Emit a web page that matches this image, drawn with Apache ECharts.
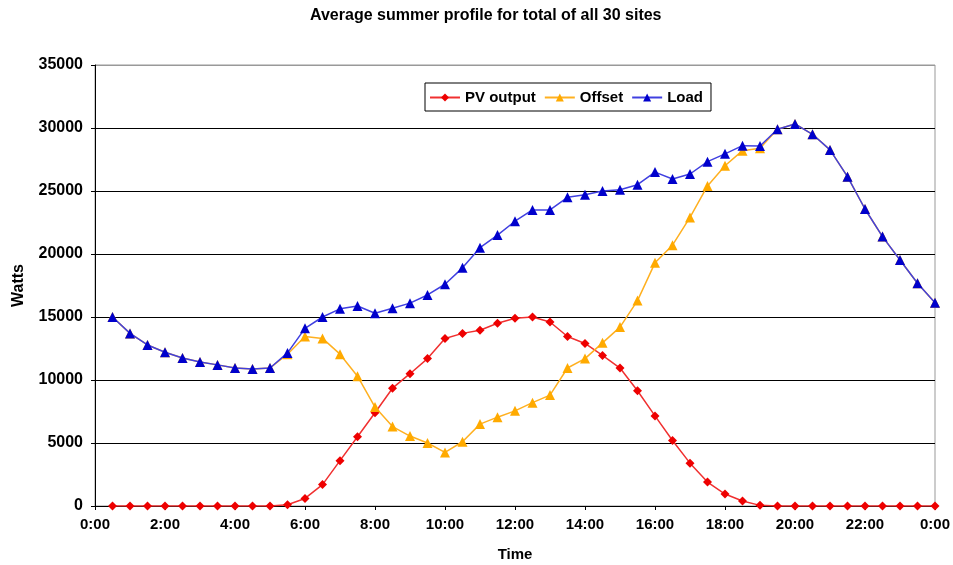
<!DOCTYPE html>
<html>
<head>
<meta charset="utf-8">
<script src="https://cdn.jsdelivr.net/npm/echarts@6/dist/echarts.min.js"></script>
<style>html,body{margin:0;padding:0;background:#fff;}#c{width:953px;height:565px;}</style>
</head>
<body>
<div id="c"></div>
<script>
var times = [0.5,1,1.5,2,2.5,3,3.5,4,4.5,5,5.5,6,6.5,7,7.5,8,8.5,9,9.5,10,10.5,11,11.5,12,
             12.5,13,13.5,14,14.5,15,15.5,16,16.5,17,17.5,18,18.5,19,19.5,20,20.5,21,21.5,22,22.5,23,23.5,24];
var pvOutput = [0,0,0,0,0,0,0,0,0,0,100,600,1700,3600,5500,7400,9350,10500,11700,13300,13700,13950,14500,14900,
                15000,14600,13450,12900,11950,10950,9150,7150,5200,3400,1900,950,400,50,0,0,0,0,0,0,0,0,0,0];
var offset = [15000,13700,12780,12200,11750,11430,11200,10950,10870,10950,12050,13450,13300,12050,10300,7850,6300,5550,5000,4250,5100,6500,7050,7550,
              8200,8800,10950,11700,12950,14200,16300,19300,20700,22900,25400,27000,28200,28400,29900,30320,29500,28260,26140,23570,21380,19520,17680,16140];
var load = [15000,13700,12780,12200,11750,11430,11200,10950,10870,10950,12150,14100,15000,15650,15870,15300,15700,16100,16750,17600,18900,20500,21500,22600,
            23500,23500,24500,24700,25000,25100,25500,26500,25950,26350,27330,27950,28600,28570,29900,30320,29500,28260,26140,23570,21380,19520,17680,16140];
var yTicks = [0,5000,10000,15000,20000,25000,30000,35000];
var xTickHours = [0,2,4,6,8,10,12,14,16,18,20,22,24];

function pairs(vals){ return times.map(function(t,i){ return [t, vals[i]]; }); }
var FONT = '"Liberation Sans", Arial, Helvetica, sans-serif';

var chart = echarts.init(document.getElementById('c'), null, {renderer:'canvas'});
chart.setOption({
  animation: false,
  backgroundColor: '#fff',
  title: {
    text: 'Average summer profile for total of all 30 sites',
    left: 305, top: 3,
    textStyle: {fontFamily: FONT, fontWeight: 'bold', fontSize: 16, color: '#000'}
  },
  legend: {
    left: 425, top: 83,
    orient: 'horizontal',
    borderColor: '#000', borderWidth: 1, backgroundColor: '#fff',
    padding: [7, 8, 6, 4],
    itemWidth: 30, itemHeight: 10, itemGap: 8,
    textStyle: {fontFamily: FONT, fontWeight: 'bold', fontSize: 15, color: '#000'},
    data: ['PV output', 'Offset', 'Load']
  },
  grid: {left: 95, right: 18, top: 65, bottom: 59, show: true, borderColor: '#999', borderWidth: 1,
         backgroundColor: '#fff', containLabel: false, outerBoundsMode: 'none'},
  xAxis: {
    type: 'value', min: 0, max: 24, interval: 2,
    name: 'Time', nameLocation: 'middle', nameGap: 41,
    nameTextStyle: {fontFamily: FONT, fontWeight: 'bold', fontSize: 15, color: '#000'},
    axisLine: {show: true, lineStyle: {color: '#000', width: 1}},
    axisTick: {show: true, length: 4, lineStyle: {color: '#000'}},
    axisLabel: {
      margin: 11, color: '#000', fontFamily: FONT, fontWeight: 'bold', fontSize: 15,
      customValues: xTickHours,
      formatter: function(v){ return (v % 24) + ':00'; }
    },
    splitLine: {show: false}
  },
  yAxis: {
    type: 'value', min: 0, max: 35000, interval: 5000,
    name: 'Watts', nameLocation: 'middle', nameGap: 68, nameRotate: 90,
    nameTextStyle: {fontFamily: FONT, fontWeight: 'bold', fontSize: 16, color: '#000'},
    axisLine: {show: true, lineStyle: {color: '#000', width: 1}},
    axisTick: {show: true, length: 4, lineStyle: {color: '#000'}},
    axisLabel: {margin: 12, color: '#000', fontFamily: FONT, fontWeight: 'bold', fontSize: 16,
      formatter: function(v){ return yTicks.indexOf(v) >= 0 ? String(v) : ''; }},
    splitLine: {show: true, lineStyle: {color: ['#000','#000','#000','#000','#000','#000','#000','#999'], width: 1}}
  },
  series: [
    {
      name: 'PV output', type: 'line', data: pairs(pvOutput),
      symbol: 'diamond', symbolSize: 9,
      itemStyle: {color: '#ee0000'},
      lineStyle: {color: '#f03030', width: 1.5},
      z: 2
    },
    {
      name: 'Offset', type: 'line', data: pairs(offset),
      symbol: 'triangle', symbolSize: 10,
      itemStyle: {color: '#ffaa00'},
      lineStyle: {color: '#ffb020', width: 1.5},
      z: 3
    },
    {
      name: 'Load', type: 'line', data: pairs(load),
      symbol: 'triangle', symbolSize: 10,
      itemStyle: {color: '#0000cc'},
      lineStyle: {color: '#4040e0', width: 1.5},
      z: 4
    }
  ]
});
</script>
</body>
</html>
